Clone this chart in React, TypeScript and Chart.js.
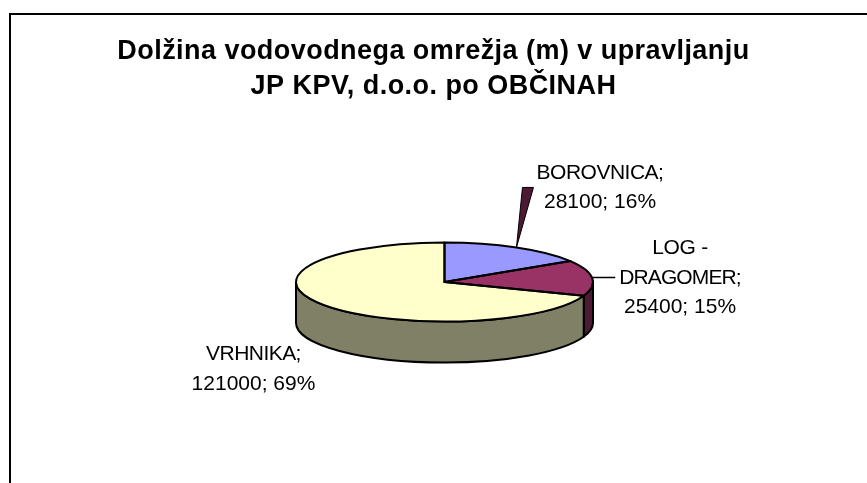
import React, { useEffect, useRef } from "react";
import { Chart, registerables } from "chart.js";

Chart.register(...registerables);

const titleLines = ["Dolžina vodovodnega omrežja (m) v upravljanju", "JP KPV, d.o.o. po OBČINAH"];
const categories = ["BOROVNICA", "LOG - DRAGOMER", "VRHNIKA"];
const values = [28100, 25400, 121000];
const topColors = ["#9999FF", "#993366", "#FFFFCC"];
const sideColors = ["#4D4D80", "#4D1A33", "#808066"];

const labelLines = [
  ["BOROVNICA;", "28100; 16%"],
  ["LOG -", "DRAGOMER;", "25400; 15%"],
  ["VRHNIKA;", "121000; 69%"],
];
const labelSpacing = [
  ["-0.5px", "0px"],
  ["-0.3px", "-0.9px", "0px"],
  ["-0.55px", "0px"],
];
const labelBoxes = [
  { x: 600, y: 173 },
  { x: 680, y: 248.5 },
  { x: 253.5, y: 354.5 },
];

const CX = 444.5;
const CY = 282;
const RX = 148.5;
const RY = 39.5;
const DEPTH = 41;
const EDGE = 2;

const pie3d = {
  id: "pie3d",
  beforeDraw(chart: any) {
    chart.ctx.letterSpacing = "0.45px";
  },
  beforeDatasetsDraw(chart: any) {
    const ctx = chart.ctx;
    ctx.letterSpacing = "0px";
    const arcs = chart.getDatasetMeta(0).data;
    ctx.save();
    ctx.lineWidth = EDGE;
    ctx.strokeStyle = "#000";
    ctx.lineJoin = "round";
    arcs.forEach((a: any, i: number) => {
      const s0 = Math.max(a.startAngle, 0);
      const s1 = Math.min(a.endAngle, Math.PI);
      if (s1 <= s0) return;
      ctx.beginPath();
      ctx.ellipse(CX, CY, RX, RY, 0, s0, s1, false);
      ctx.ellipse(CX, CY + DEPTH, RX, RY, 0, s1, s0, true);
      ctx.closePath();
      ctx.fillStyle = sideColors[i];
      ctx.fill();
      ctx.stroke();
    });
    ctx.restore();
  },
  beforeDatasetDraw(chart: any) {
    const ctx = chart.ctx;
    const a = chart.getDatasetMeta(0).data[0];
    ctx.save();
    ctx.translate(CX, CY);
    ctx.scale(RX / a.outerRadius, RY / a.outerRadius);
    ctx.translate(-a.x, -a.y);
  },
  afterDatasetDraw(chart: any) {
    const ctx = chart.ctx;
    ctx.restore();
    const arcs = chart.getDatasetMeta(0).data;
    ctx.save();
    ctx.lineWidth = EDGE;
    ctx.strokeStyle = "#000";
    ctx.lineJoin = "round";
    arcs.forEach((a: any) => {
      ctx.beginPath();
      ctx.moveTo(CX, CY);
      ctx.ellipse(CX, CY, RX, RY, 0, a.startAngle, a.endAngle, false);
      ctx.closePath();
      ctx.stroke();
    });
    const pt = (a: any) => {
      const m = (a.startAngle + a.endAngle) / 2;
      return { x: CX + RX * Math.cos(m), y: CY + RY * Math.sin(m) };
    };
    const p0 = pt(arcs[0]);
    ctx.beginPath();
    ctx.moveTo(p0.x, p0.y);
    ctx.lineTo(p0.x + 6, p0.y - 60);
    ctx.lineTo(p0.x + 17, p0.y - 60);
    ctx.closePath();
    ctx.fillStyle = sideColors[1];
    ctx.fill();
    ctx.lineWidth = 1;
    ctx.stroke();
    const p1 = pt(arcs[1]);
    ctx.beginPath();
    ctx.moveTo(p1.x, p1.y - 0.5);
    ctx.lineTo(p1.x + 23, p1.y - 0.5);
    ctx.lineWidth = 1.5;
    ctx.stroke();
    ctx.fillStyle = "#000";
    ctx.font = '21px "Liberation Sans"';
    ctx.textAlign = "center";
    ctx.textBaseline = "middle";
    labelLines.forEach((lines, i) => {
      lines.forEach((t, j) => {
        ctx.letterSpacing = labelSpacing[i][j];
        ctx.fillText(t, labelBoxes[i].x, labelBoxes[i].y + j * 29.3);
      });
    });
    ctx.restore();
  },
};

export default function App() {
  const ref = useRef<HTMLCanvasElement>(null);
  useEffect(() => {
    document.body.style.margin = "0";
    const chart = new Chart(ref.current!, {
      type: "pie",
      data: {
        labels: categories,
        datasets: [{ data: values, backgroundColor: topColors, borderWidth: 0, clip: false, radius: RX } as any],
      },
      options: {
        responsive: false,
        animation: false,
        plugins: {
          legend: { display: false },
          tooltip: { enabled: false },
          title: {
            display: true,
            text: titleLines,
            color: "#000",
            font: { family: '"Liberation Sans"', size: 27, weight: "bold", lineHeight: 1.3 },
            padding: { top: 34, bottom: 10 },
          },
        },
      },
      plugins: [pie3d],
    });
    return () => chart.destroy();
  }, []);
  return (
    <div style={{ position: "relative", width: 867, height: 483, overflow: "hidden" }}>
      <div
        style={{
          position: "absolute",
          left: 9,
          top: 13,
          width: 900,
          height: 600,
          borderLeft: "2px solid #000",
          borderTop: "2px solid #000",
        }}
      />
      <canvas ref={ref} width={867} height={483} style={{ position: "absolute", left: 0, top: 0, display: "block" }} />
    </div>
  );
}
